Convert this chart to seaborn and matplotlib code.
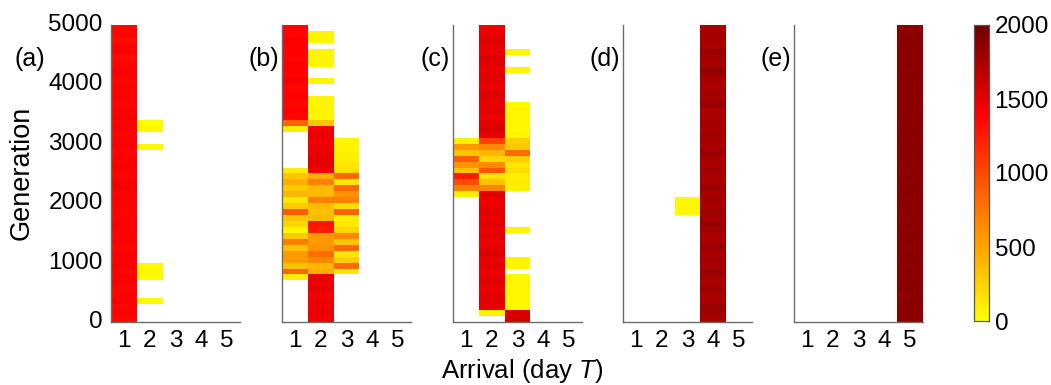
import numpy as np
import pandas as pd
import matplotlib
matplotlib.use("Agg")
import matplotlib.pyplot as plt
from matplotlib.colors import LinearSegmentedColormap
import seaborn as sns

# ---------------------------------------------------------------------------
# Data: number of individuals per arrival day, binned by 100 generations.
# Each column is a list of runs: (first generation of the run, row values
# going upward from that generation).  Rows not covered are empty.
# ---------------------------------------------------------------------------
days = [1, 2, 3, 4, 5]
generations = list(range(0, 5000, 100))
gen_ticks = [0, 1000, 2000, 3000, 4000, 5000]
cbar_ticks = [0, 500, 1000, 1500, 2000]
panel_labels = ["(a)", "(b)", "(c)", "(d)", "(e)"]

a_day1 = [(0, [1380, 1400, 1360, 1410, 1390, 1370, 1420, 1400, 1380, 1430,
               1390, 1400, 1370, 1410, 1380, 1400, 1420, 1390, 1370, 1400,
               1410, 1390, 1450, 1430, 1380, 1400, 1420, 1390, 1380, 1410,
               1400, 1370, 1420, 1390, 1440, 1400, 1380, 1410, 1390, 1400,
               1370, 1400, 1420, 1380, 1330, 1400, 1390, 1340, 1380, 1360])]
a_day2 = [(300, [40]), (700, [30, 50, 40]), (2900, [40]), (3200, [40, 30])]

b_day1 = [(700, [100, 850, 350, 550, 550, 350, 700, 300, 50, 220,
                 320, 900, 300, 130, 400, 300, 450, 320, 100]),
          (3200, [100, 850, 1380, 1400, 1360, 1420, 1400, 1380, 1440, 1390,
                  1400, 1410, 1370, 1400, 1390, 1420, 1380, 1400])]
b_day2 = [(0, [1450, 1480, 1460, 1470, 1450, 1490, 1460, 1470,
               450, 400, 650, 800, 600, 550, 550, 1250, 1300, 380,
               350, 380, 700, 380, 380, 700, 450,
               1460, 1500, 1520, 1490, 1470, 1450, 1480, 1460,
               320, 60, 70, 50, 60]),
          (4000, [60]), (4300, [50, 60, 50]), (4700, [50, 60])]
b_day3 = [(800, [130, 820, 280, 130, 820, 320, 650, 220, 130, 90,
                 870, 180, 700, 600, 820, 130, 820,
                 180, 140, 100, 80, 60, 60])]

c_day1 = [(2100, [100, 700, 980, 1250, 350, 600, 880, 320, 550, 80])]
c_day2 = [(100, [80,
                 1480, 1520, 1500, 1470, 1530, 1500, 1460, 1510, 1490, 1540,
                 1500, 1470, 1520, 1490, 1500, 1480, 1510, 1490, 1460, 1500,
                 650, 350, 150, 930, 650, 230, 400, 650, 1050,
                 1480, 1550, 1500, 1460, 1520, 1490, 1500, 1540, 1470, 1500,
                 1520, 1480, 1510, 1540, 1490, 1500, 1530, 1480, 1460])]
c_day3 = [(0, [1580, 1560, 60, 50, 60, 50, 60, 50]),
          (900, [60, 60]), (1500, [60]),
          (2200, [100, 120, 100, 180, 140, 270, 820, 320, 270,
                  60, 50, 60, 50, 60, 50]),
          (4200, [60]), (4500, [60])]

d_day3 = [(1800, [40, 40, 40])]
d_day4 = [(0, [1760, 1780, 1820, 1760, 1740, 1800, 1750, 1770, 1830, 1760,
               1780, 1750, 1800, 1760, 1740, 1780, 1820, 1760, 1790, 1750,
               1770, 1760, 1800, 1750, 1760, 1780, 1740, 1760, 1810, 1750,
               1760, 1780, 1750, 1770, 1760, 1740, 1820, 1760, 1780, 1750,
               1760, 1790, 1850, 1760, 1780, 1820, 1750, 1760, 1780, 1760])]

e_day5 = [(0, [1880, 1870, 1890, 1880, 1860, 1880, 1890, 1870, 1880, 1870,
               1890, 1880, 1870, 1880, 1890, 1870, 1880, 1860, 1880, 1890,
               1870, 1880, 1890, 1870, 1880, 1860, 1880, 1870, 1890, 1880,
               1870, 1880, 1890, 1870, 1880, 1880, 1870, 1890, 1880, 1870,
               1880, 1890, 1870, 1880, 1880, 1870, 1890, 1880, 1870, 1880])]

panels = [
    {1: a_day1, 2: a_day2},
    {1: b_day1, 2: b_day2, 3: b_day3},
    {1: c_day1, 2: c_day2, 3: c_day3},
    {3: d_day3, 4: d_day4},
    {5: e_day5},
]


def build_frame(columns):
    grid = np.full((len(generations), len(days)), np.nan)
    for day, runs in columns.items():
        j = days.index(day)
        for start, values in runs:
            i0 = generations.index(start)
            grid[i0:i0 + len(values), j] = values
    return pd.DataFrame(grid, index=generations, columns=days)


# ---------------------------------------------------------------------------
# Styling
# ---------------------------------------------------------------------------
sns.set_style("white")
plt.rcParams["font.family"] = ["Liberation Sans", "DejaVu Sans"]
plt.rcParams["mathtext.fontset"] = "custom"
plt.rcParams["mathtext.rm"] = "Liberation Sans"
plt.rcParams["mathtext.it"] = "Liberation Sans:italic"
plt.rcParams["text.color"] = "black"
plt.rcParams["xtick.labelcolor"] = "black"
plt.rcParams["ytick.labelcolor"] = "black"

cmap = LinearSegmentedColormap.from_list(
    "arrival", [(0.0, (1.0, 1.0, 0.0)), (0.7, (1.0, 0.0, 0.0)),
                (1.0, (0.43, 0.0, 0.0))])

W, H = 1051, 385
fig = plt.figure(figsize=(W / 100, H / 100), dpi=100)

ax_lefts = [111, 282, 453, 623, 794]
ax_w, ax_top, ax_bot = 129, 25, 322
spine_col = "#6b6b6b"
fs = 17.5

cax = fig.add_axes([974 / W, (H - 321) / H, 15 / W, (321 - 25) / H])

nrows = len(generations)
for k, (left, cols, lab) in enumerate(zip(ax_lefts, panels, panel_labels)):
    ax = fig.add_axes([left / W, (H - ax_bot) / H, ax_w / W, (ax_bot - ax_top) / H])
    df = build_frame(cols)
    last = k == len(panels) - 1
    sns.heatmap(df, ax=ax, cmap=cmap, vmin=0, vmax=2000,
                cbar=last, cbar_ax=cax if last else None,
                xticklabels=True, yticklabels=True)
    ax.set_ylim(0, nrows)
    ax.set_xlim(0, len(days))
    ax.set_facecolor("white")

    for side in ["top", "right"]:
        ax.spines[side].set_visible(False)
    for side in ["left", "bottom"]:
        ax.spines[side].set_visible(True)
        ax.spines[side].set_color(spine_col)
        ax.spines[side].set_linewidth(1.0)

    ax.set_xticks(np.arange(len(days)) + 0.5)
    ax.set_xticklabels([str(d) for d in days], rotation=0, fontsize=fs)
    ax.tick_params(axis="x", length=0, pad=6)
    if k == 0:
        ax.set_yticks([g / 100 for g in gen_ticks])
        ax.set_yticklabels([str(g) for g in gen_ticks], rotation=0, fontsize=fs)
        ax.tick_params(axis="y", length=0, pad=6)
    else:
        ax.set_yticks([])
    ax.set_xlabel("")
    ax.set_ylabel("")

    # panel letter: first panel sits at the far left, beyond the tick labels
    lab_x = 45 if k == 0 else left - 3
    fig.text(lab_x / W, (H - 59) / H, lab, ha="right", va="center", fontsize=18)

cax.set_yticks(cbar_ticks)
cax.set_yticklabels([str(t) for t in cbar_ticks], fontsize=fs)
cax.tick_params(axis="y", direction="in", length=3, color="#333333", pad=4)
for s in cax.spines.values():
    s.set_visible(True)
    s.set_edgecolor("#555555")
    s.set_linewidth(0.8)

fig.text(22 / W, (H - 173) / H, "Generation", rotation=90, ha="center",
         va="center", fontsize=19.5)
fig.text(522 / W, (H - 371) / H, "Arrival (day $T$)", ha="center",
         va="center", fontsize=18.5)

fig.savefig("out.png", dpi=100)
